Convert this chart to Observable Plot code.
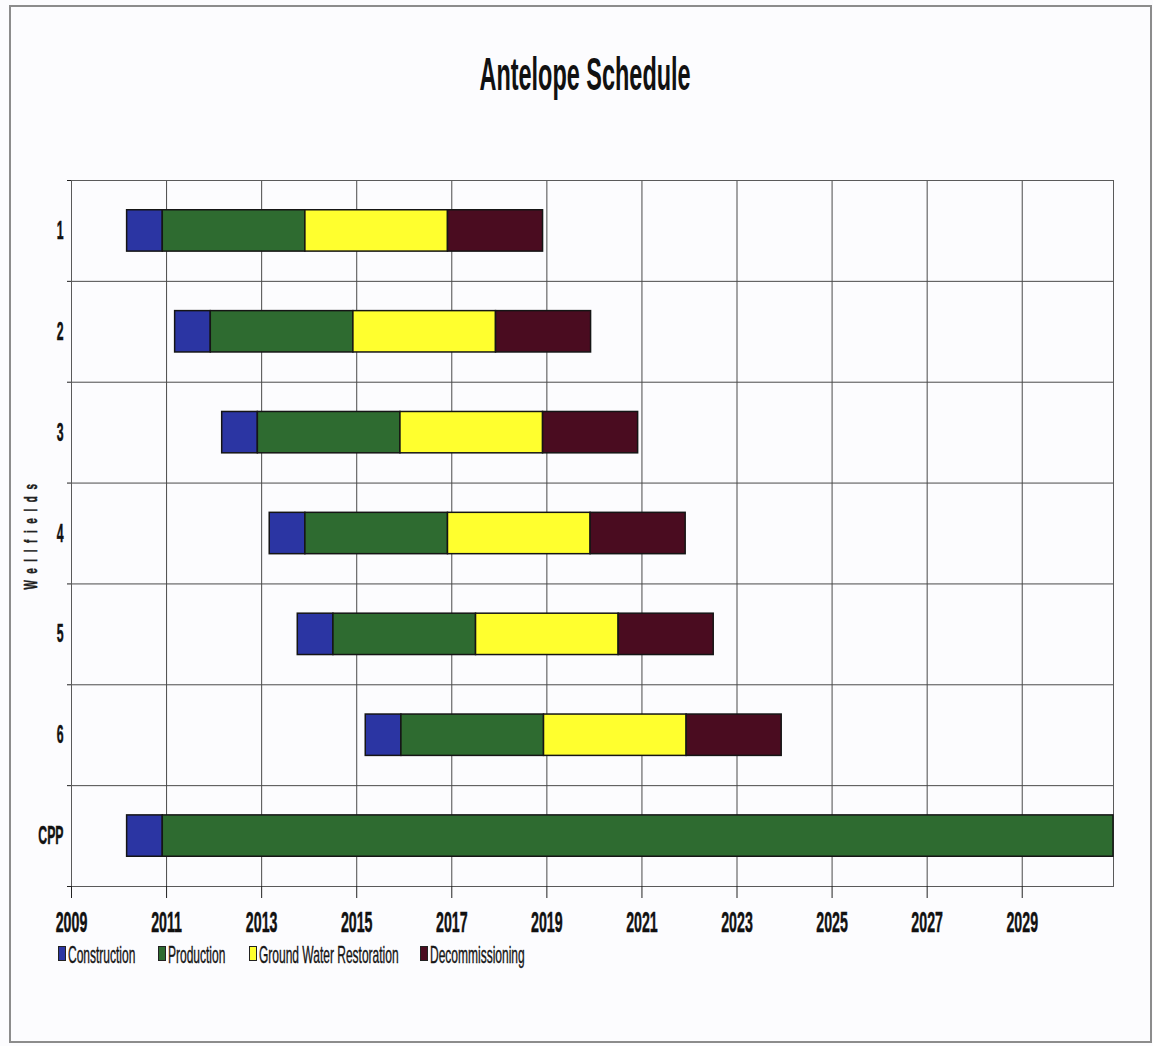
<!DOCTYPE html>
<html>
<head>
<meta charset="utf-8">
<script src="https://cdn.jsdelivr.net/npm/d3@7"></script>
<script src="https://cdn.jsdelivr.net/npm/@observablehq/plot@0.6"></script>
<style>
  html, body { margin: 0; padding: 0; background: #fcfcfe; }
  #page { position: relative; width: 1153px; height: 1046px; overflow: hidden; background: #fcfcfe;
          font-family: "Liberation Sans", Arial, sans-serif; color: #111; }
  #border { position: absolute; left: 9px; top: 5px; width: 1139px; height: 1034px; border: 2px solid #8c8c8c; }
  #title { position: absolute; left: 0; top: 51px; width: 1170px; text-align: center;
           font-size: 46px; line-height: 46px; font-weight: bold; }
  #title span { display: inline-block; transform: scaleX(0.51); }
  #chart { position: absolute; left: 0; top: 170px; }
  .legend-item { position: absolute; top: 943px; height: 24px; }
  .legend-item .swatch { position: absolute; left: 0; top: 3px; width: 6px; height: 13px; border: 1px solid #222; }
  .legend-item .label { position: absolute; left: 10px; top: 0; white-space: nowrap; font-size: 24px; line-height: 24px;
                        transform: scaleX(0.5); transform-origin: left center; color: #151515;
                        -webkit-text-stroke: 0.4px #151515; }
</style>
</head>
<body>
<div id="page">
  <div id="border"></div>
  <div id="title"><span>Antelope Schedule</span></div>
  <div id="chart"></div>
  <div id="legend"></div>
</div>
<script>
// Wellfields, top to bottom
const fields = ["1", "2", "3", "4", "5", "6", "CPP"];
// Start of construction for each wellfield (decimal years)
const starts = [2010.17, 2011.18, 2012.17, 2013.17, 2013.76, 2015.19, 2010.17];
// Duration of each phase in years
const construction    = [0.75, 0.75, 0.75, 0.75, 0.75, 0.75, 0.75];
const production      = [3, 3, 3, 3, 3, 3, 20];
const restoration     = [3, 3, 3, 3, 3, 3, 0];
const decommissioning = [2, 2, 2, 2, 2, 2, 0];

const phases = ["Construction", "Production", "Ground Water Restoration", "Decommissioning"];
const phaseColors = ["#2b35a3", "#2e6b30", "#ffff2e", "#4a0c20"];
const yearTicks = [2009, 2011, 2013, 2015, 2017, 2019, 2021, 2023, 2025, 2027, 2029];
const xMax = 2030.92;

// One segment per wellfield and phase, laid end to end from the start year
const durations = [construction, production, restoration, decommissioning];
const segments = [];
fields.forEach((field, i) => {
  let t = starts[i];
  phases.forEach((phase, p) => {
    const d = durations[p][i];
    if (d > 0) segments.push({field, row: i, phase, x1: t, x2: t + d});
    t += d;
  });
});

const rowIndex = fields.map((_, i) => i);
const boundaries = d3.range(0, fields.length + 1);
const barHalf = 0.205;

const plot = Plot.plot({
  width: 1153,
  height: 776,
  marginTop: 10,
  marginBottom: 60,
  marginLeft: 71,
  marginRight: 40,
  style: {background: "transparent", fontFamily: "'Liberation Sans', Arial, sans-serif", color: "#222"},
  x: {domain: [2009, xMax], label: null},
  y: {domain: [0, fields.length], reverse: true, label: null},
  color: {domain: phases, range: phaseColors},
  marks: [
    Plot.gridX({ticks: yearTicks, stroke: "#4a4a4a", strokeOpacity: 1}),
    Plot.gridY({ticks: boundaries.slice(1, -1), stroke: "#4a4a4a", strokeOpacity: 1}),
    Plot.frame({stroke: "#5a5a5a"}),
    Plot.rect(segments, {
      x1: "x1", x2: "x2",
      y1: d => d.row + 0.5 - barHalf,
      y2: d => d.row + 0.5 + barHalf,
      fill: "phase",
      stroke: "#151515",
      strokeWidth: 1.5
    }),
    Plot.axisX({
      ticks: yearTicks, tickSize: 12, tickPadding: 13,
      tickFormat: d => String(d), fontSize: 29, fontWeight: "bold", label: null, fill: "#111"
    }),
    Plot.axisY({ticks: boundaries, tickSize: 4, tickFormat: () => "", label: null}),
    Plot.axisY({
      ticks: rowIndex.map(i => i + 0.5), tickSize: 0, tickPadding: 8,
      tickFormat: v => fields[Math.floor(v)], fontSize: 25, fontWeight: "bold", label: null, fill: "#111"
    }),
    Plot.text(["Wellfields"], {
      frameAnchor: "left", textAnchor: "middle", dx: -40, rotate: -90, text: d => d,
      fontSize: 18, fontWeight: "bold", fill: "#222"
    })
  ]
});

// Narrow the lettering horizontally around each label's own anchor
function squeeze(el, sx) {
  const t = el.getAttribute("transform") || "";
  const x = el.getAttribute("x");
  if (x !== null && !isNaN(+x)) el.setAttribute("x", +x / sx);
  el.setAttribute("transform", `${t} scale(${sx},1)`);
}
d3.select(plot).selectAll("text").each(function() {
  const isTitle = this.textContent === "Wellfields";
  if (isTitle) this.style.letterSpacing = "12px";
  this.style.stroke = "#111";
  this.style.strokeWidth = "0.5px";
  squeeze(this, isTitle ? 0.55 : 0.49);
});

document.getElementById("chart").appendChild(plot);

// Legend under the axis
const legendLeft = [58, 158, 249, 420];
const legend = d3.select("#legend");
phases.forEach((phase, i) => {
  const item = legend.append("div").attr("class", "legend-item").style("left", legendLeft[i] + "px");
  item.append("div").attr("class", "swatch").style("background", phaseColors[i]);
  item.append("span").attr("class", "label").text(phase);
});
</script>
</body>
</html>
